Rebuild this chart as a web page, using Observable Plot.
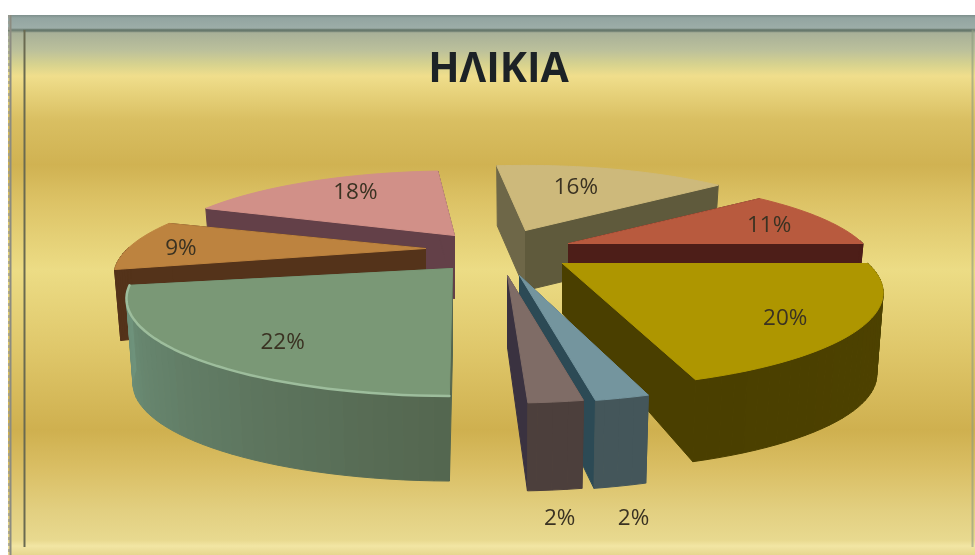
<!DOCTYPE html>
<html>
<head>
<meta charset="utf-8">
<script src="https://cdn.jsdelivr.net/npm/d3@7"></script>
<script src="https://cdn.jsdelivr.net/npm/@observablehq/plot@0.6"></script>
<style>html,body{margin:0;padding:0;background:#fff;overflow:hidden}</style>
</head>
<body>
<div id="chart"></div>
<script>
// Data: clockwise from the start of the pie
const title = "ΗΛΙΚΙΑ";
const values = [20, 2, 2, 22, 9, 18, 16, 11];

// Look of each slice (same order as values)
const topColors  = ["#ae9600", "#74959e", "#7f6c66", "#7a9876", "#bd833f", "#d19088", "#cdb97b", "#b85a3e"];
const wallStart  = ["#4f4300", "#44565a", "#4c3f3c", "#54664f", "#54331a", "#634048", "#6e6748", "#4d1e18"];
const wallEnd    = ["#4a3f00", "#44565a", "#4c3f3c", "#6f937c", "#54331a", "#634048", "#6e6748", "#4d1e18"];
const edgeStart  = ["#4a3f00", "#2c4a55", "#3a3240", "#54664f", "#54331a", "#634048", "#5f5a3c", "#4d1e18"];
const edgeEnd    = ["#4f4300", "#44565a", "#4c3f3c", "#54664f", "#54331a", "#634048", "#6e6748", "#4d1e18"];
// Exploded layout of each slice
const apexX      = [562, 519, 507, 452, 425, 454, 525, 568];
const apexY      = [263, 275, 275, 268, 248, 235, 230, 243];
const radiusK    = [0.985, 1.0, 1.0, 1.0, 0.96, 0.95, 0.96, 0.95];
const turn       = [0, 1, 1, 4, 1, 3, 0, 0];
const depthApex  = [50, 60, 72, 85, 60, 63, 60, 60];
const depthRim   = [82, 88, 88, 85, 71, 60, 60, 60];
const labelR     = [0.794, 1.5, 1.488, 0.793, 0.79, 0.702, 0.622, 0.73];
const labelTurn  = [4.5, 5.8, 2.7, -6.7, -2.5, 4, -3.6, 1.5];
const paintOrder = [6, 7, 0, 5, 4, 3, 1, 2];

// Perspective of the pie's plane
const R = 310, A = 88, P = 0.31;
const rad = d => d * Math.PI / 180;
function project(r, deg) {
  const X = r * Math.cos(rad(deg)), Y = r * Math.sin(rad(deg));
  const k = 1 / (1 - P * Y);
  return [R * X * k, A * Y * k];
}

const total = d3.sum(values);
let acc = 0;
const slices = values.map((v, i) => {
  const a0 = acc / total * 360 + turn[i];
  acc += v;
  const a1 = acc / total * 360 + turn[i];
  return {i, v, a0, a1};
});

const rows = [];
const rims = [];
const labels = [];
let faceId = 0;
function face(points, fill) {
  const id = faceId++;
  for (const [x, y] of [...points, points[0]]) rows.push({x, y, id, fill});
}
function topPt(s, r, deg) {
  const [sx, sy] = project(r * radiusK[s.i], deg);
  return [apexX[s.i] + sx, apexY[s.i] + sy];
}
function botPt(s, r, deg) {
  const [sx, sy] = project(r * radiusK[s.i], deg);
  const d = depthApex[s.i] + (depthRim[s.i] - depthApex[s.i]) * r;
  return [apexX[s.i] + sx * 0.98, apexY[s.i] + sy + d];
}
for (const i of paintOrder) {
  const s = slices[i];
  const steps = d3.range(s.a0, s.a1 + 1e-6, 2);
  if (steps[steps.length - 1] < s.a1) steps.push(s.a1);
  // radial walls
  face([topPt(s, 0, s.a0), topPt(s, 1, s.a0), botPt(s, 1, s.a0), botPt(s, 0, s.a0)], edgeEnd[i]);
  face([topPt(s, 0, s.a1), topPt(s, 1, s.a1), botPt(s, 1, s.a1), botPt(s, 0, s.a1)], edgeStart[i]);
  // outer wall, strip by strip so that it can shade along the arc
  const mix = d3.interpolateRgb(wallStart[i], wallEnd[i]);
  for (let j = 0; j < steps.length - 1; j++) {
    const m = (steps[j] + steps[j + 1]) / 2;
    if (Math.sin(rad(m)) < -0.02) continue;
    const t = (m - s.a0) / (s.a1 - s.a0);
    face([topPt(s, 1, steps[j]), topPt(s, 1, steps[j + 1]), botPt(s, 1, steps[j + 1]), botPt(s, 1, steps[j])], mix(t));
  }
  // top face
  face([topPt(s, 0, s.a0), ...steps.map(d => topPt(s, 1, d))], topColors[i]);
  const lm = (s.a0 + s.a1) / 2 + labelTurn[i];
  const [lx, ly] = project(labelR[i], lm);
  labels.push({x: apexX[i] + lx, y: apexY[i] + ly, text: `${s.v}%`});
  if (s.v === d3.max(values)) {
    for (const d of steps) { const [x, y] = topPt(s, 1, d); rims.push({x, y}); }
  }
}

const background =
  "linear-gradient(to right,#fff 0 8px,transparent 8px)," +
  "linear-gradient(to bottom,#fff 0 15px,#7d8f8c 15px,#93a5a1 18px,#9cada8 28px,#6b7b70 30px,#a8b098 33px," +
  "#bbc09b 50px,#d8d38e 65px,#f0de8c 76px,#e8d47e 90px,#d9bf62 120px,#d0b252 165px,#dcc265 200px," +
  "#ecdc85 270px,#dfc76a 350px,#cfb04f 430px,#dabf65 470px,#e2cf80 510px,#e8d98f 540px,#f2e6a4 546px,#e6d68e 555px)";

const chart = Plot.plot({
  width: 975,
  height: 555,
  margin: 0,
  x: {domain: [0, 975], range: [0, 975], axis: null},
  y: {domain: [0, 555], range: [0, 555], axis: null},
  color: {type: "identity"},
  style: {background, filter: "blur(0.7px)"},
  marks: [
    Plot.ruleX([10], {y1: 15, y2: 555, stroke: "#8b8b80", strokeWidth: 2}),
    Plot.ruleX([8.5], {y1: 15, y2: 555, stroke: "#9a9a90", strokeWidth: 1.5, strokeDasharray: "3 3"}),
    Plot.ruleY([30], {x1: 23, x2: 972, stroke: "#67786c", strokeWidth: 2}),
    Plot.ruleX([24], {y1: 30, y2: 547, stroke: "#6a6a50", strokeWidth: 2}),
    Plot.ruleX([972], {y1: 30, y2: 547, stroke: "#8c9a80", strokeWidth: 2, strokeOpacity: 0.6}),
    Plot.line(rows, {x: "x", y: "y", z: "id", fill: "fill", stroke: "fill", strokeWidth: 1, curve: "linear"}),
    Plot.line(rims, {x: "x", y: "y", stroke: "#9dbd9c", strokeWidth: 2.5}),
    Plot.text(labels, {x: "x", y: "y", text: "text", fill: "#3a3222", fontSize: 22.5, fontFamily: "'Open Sans', sans-serif"}),
    Plot.text([title], {x: 498, y: 68, text: d => d, fill: "#1c2226", fontSize: 41, fontWeight: 700, fontFamily: "'Open Sans', sans-serif"})
  ]
});
document.getElementById("chart").appendChild(chart);
</script>
</body>
</html>
